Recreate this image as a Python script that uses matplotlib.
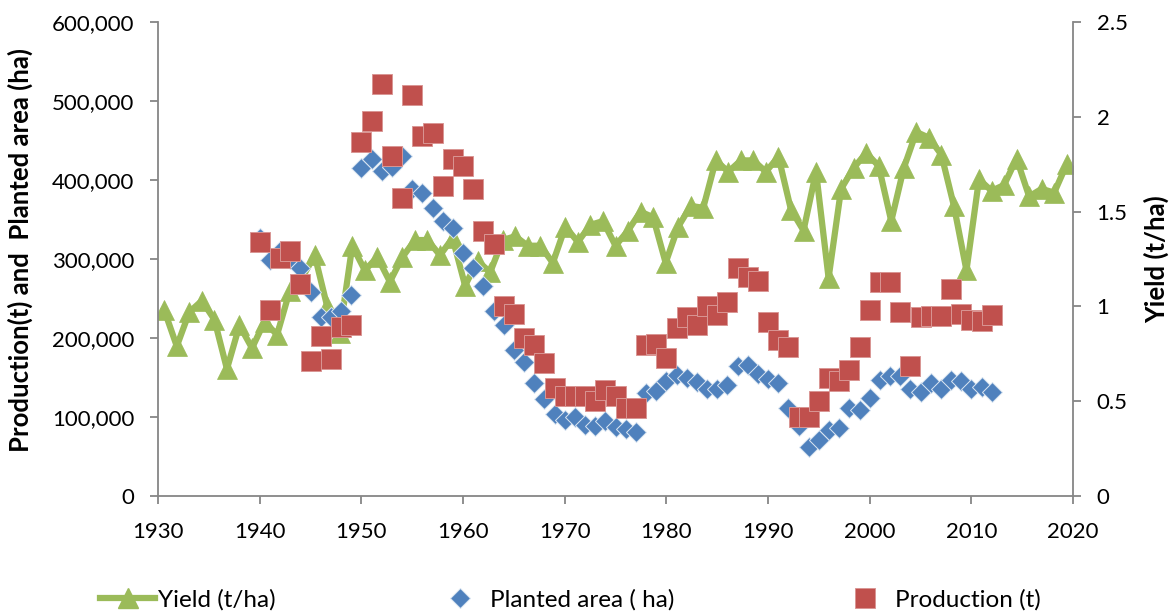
import matplotlib
matplotlib.use("Agg")
import matplotlib.pyplot as plt
from matplotlib.ticker import FuncFormatter, FixedLocator
from matplotlib.lines import Line2D
import numpy as np

# ---------------- data ----------------
years = list(range(1940, 2013))

planted_area = [
    326000, 299000, 310000, 300000, 288000, 258000, 227000, 227000, 234000, 255000,
    415000, 426000, 411000, 417000, 430000, 388000, 384000, 365000, 348000, 339000,
    307000, 288000, 266000, 234000, 217000, 185000, 170000, 143000, 123000, 104000,
    96000, 100000, 90000, 88000, 95000, 87000, 85000, 81000, 130000, 133000,
    146000, 153000, 149000, 144000, 135000, 135000, 140000, 165000, 166000, 154000,
    148000, 143000, 111000, 88000, 62000, 71000, 84000, 86000, 111000, 109000,
    124000, 147000, 152000, 152000, 136000, 132000, 143000, 136000, 147000, 145000,
    136000, 138000, 132000,
]

production = [
    321000, 236000, 301000, 310000, 268000, 171000, 203000, 174000, 214000, 217000,
    448000, 475000, 522000, 430000, 377000, 508000, 456000, 460000, 392000, 427000,
    418000, 388000, 336000, 319000, 240000, 231000, 200000, 191000, 168000, 137000,
    126000, 126000, 126000, 120000, 134000, 127000, 111000, 111000, 191000, 192000,
    175000, 213000, 227000, 217000, 240000, 229000, 246000, 288000, 277000, 272000,
    220000, 198000, 189000, 100000, 100000, 120000, 149000, 145000, 159000, 188000,
    236000, 271000, 271000, 233000, 164000, 226000, 228000, 228000, 262000, 231000,
    223000, 221000, 229000,
]

# yield is plotted on a secondary (hidden) category axis, as in the source chart
yield_vals = [
    0.98, 0.79, 0.97, 1.03, 0.93, 0.67, 0.90, 0.78, 0.92, 0.85,
    1.08, 1.15, 1.27, 1.00, 0.86, 1.32, 1.19, 1.26, 1.13, 1.26,
    1.35, 1.35, 1.27, 1.36, 1.11, 1.24, 1.18, 1.35, 1.37, 1.32,
    1.32, 1.23, 1.42, 1.34, 1.43, 1.45, 1.32, 1.40, 1.50, 1.47,
    1.23, 1.42, 1.53, 1.52, 1.77, 1.71, 1.77, 1.77, 1.71, 1.79,
    1.51, 1.40, 1.71, 1.15, 1.62, 1.73, 1.81, 1.74, 1.45, 1.73,
    1.92, 1.89, 1.80, 1.53, 1.19, 1.67, 1.61, 1.64, 1.78, 1.58,
    1.62, 1.60, 1.75,
]

x_ticks = [1930, 1940, 1950, 1960, 1970, 1980, 1990, 2000, 2010, 2020]
left_ticks = [0, 100000, 200000, 300000, 400000, 500000, 600000]
right_ticks = [0, 0.5, 1, 1.5, 2, 2.5]
right_tick_labels = ["0", "0.5", "1", "1.5", "2", "2.5"]

series_labels = ["Yield (t/ha)", "Planted area ( ha)", "Production (t)"]
left_label = "Production(t) and  Planted area (ha)"
right_label = "Yield (t/ha)"

# ---------------- style ----------------
GREEN = "#9BBB59"
BLUE = "#4F81BD"
RED = "#C0504D"
AXIS = "#868686"
FS = 16          # tick labels
FS_LEG = 17.5    # legend text
FS_LAB = 18.5    # axis titles

plt.rcParams['font.family'] = ['Lato', 'DejaVu Sans']

W, H = 1174, 613
fig = plt.figure(figsize=(W / 100, H / 100), dpi=100)
rect = [158 / W, 1 - 496 / H, (1073 - 158) / W, (496 - 22) / H]

# secondary axes (yield) underneath
ax_y = fig.add_axes(rect)
ax = fig.add_axes(rect)
ax.patch.set_visible(False)

yield_pos = np.arange(len(yield_vals))
ax_y.plot(yield_pos, yield_vals, color=GREEN, lw=4.5, marker='^', ms=14.5,
          mfc=GREEN, mec=GREEN, mew=0.5, solid_joinstyle='round', zorder=2)
ax_y.set_xlim(-0.5, len(yield_vals) - 0.5)
ax_y.set_ylim(0, 2.5)
ax_y.xaxis.set_visible(False)
ax_y.yaxis.tick_right()
ax_y.yaxis.set_label_position('right')
ax_y.yaxis.set_major_locator(FixedLocator(right_ticks))
ax_y.set_yticklabels(right_tick_labels)
for s in ['top', 'left', 'bottom']:
    ax_y.spines[s].set_visible(False)
ax_y.spines['right'].set_color(AXIS)
ax_y.spines['right'].set_linewidth(1.3)
ax_y.tick_params(axis='y', direction='out', length=6, width=1.3, color=AXIS,
                 labelsize=FS, pad=11)
ax_y.set_ylabel(right_label, fontsize=FS_LAB, fontweight='bold', labelpad=12)

# primary axes
ax.plot(years, planted_area, linestyle='none', marker='D', ms=10, mfc=BLUE,
        mec='#dce6f2', mew=0.7, zorder=3)
ax.plot(years, production, linestyle='none', marker='s', ms=14.5, mfc=RED,
        mec='#d99694', mew=0.7, zorder=4)
ax.set_xlim(1930, 2020)
ax.set_ylim(0, 600000)
ax.xaxis.set_major_locator(FixedLocator(x_ticks))
ax.yaxis.set_major_locator(FixedLocator(left_ticks))
ax.yaxis.set_major_formatter(FuncFormatter(lambda v, p: f"{int(v):,}"))
ax.spines['top'].set_visible(False)
ax.spines['right'].set_visible(False)
for s in ['left', 'bottom']:
    ax.spines[s].set_color(AXIS)
    ax.spines[s].set_linewidth(1.3)
ax.tick_params(axis='both', direction='out', length=6, width=1.3, color=AXIS,
               labelsize=FS)
ax.tick_params(axis='y', pad=11)
ax.tick_params(axis='x', pad=13)
ax.set_ylabel(left_label, fontsize=FS_LAB, fontweight='bold')
ax.yaxis.set_label_coords(-0.1366, 0.52)

# legend (three entries, positioned like the source)
handles = [
    Line2D([], [], color=GREEN, lw=4.5, marker='^', ms=14.5, mfc=GREEN, mec=GREEN),
    Line2D([], [], linestyle='none', marker='D', ms=10, mfc=BLUE, mec='#dce6f2', mew=0.7),
    Line2D([], [], linestyle='none', marker='s', ms=14.5, mfc=RED, mec='#d99694', mew=0.7),
]
leg_px = FS_LEG * 100 / 72
starts = [100, 432, 837]
for h, lab, x0 in zip(handles, series_labels, starts):
    fig.legend([h], [lab], loc='center left', bbox_to_anchor=(x0 / W, 1 - 600 / H),
               frameon=False, fontsize=FS_LEG, handlelength=55 / leg_px,
               handletextpad=3 / leg_px, borderpad=0, borderaxespad=0)

fig.savefig("out.png", dpi=100)
